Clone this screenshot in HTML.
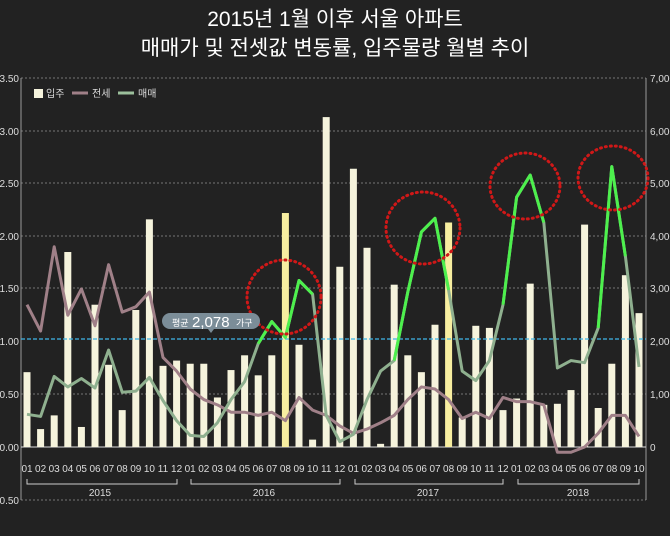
<!DOCTYPE html><html><head><meta charset="utf-8"><style>
body{margin:0;background:#222;width:670px;height:531px;overflow:hidden;font-family:"Liberation Sans","Noto Sans CJK KR",sans-serif}
svg text{font-family:"Liberation Sans","Noto Sans CJK KR",sans-serif}
</style></head><body>
<svg id="s" width="670" height="531" xmlns="http://www.w3.org/2000/svg">
<rect width="670" height="531" fill="#222"/>
<text x="335" y="26" fill="#fff" font-size="21" text-anchor="middle">2015년 1월 이후 서울 아파트</text>
<text x="335" y="55" fill="#fff" font-size="21" text-anchor="middle">매매가 및 전셋값 변동률, 입주물량 월별 추이</text>
<g stroke="#777" stroke-dasharray="2,2" stroke-width="1">
<line x1="21" x2="646" y1="78" y2="78"/><line x1="21" x2="646" y1="131" y2="131"/><line x1="21" x2="646" y1="183" y2="183"/><line x1="21" x2="646" y1="236" y2="236"/><line x1="21" x2="646" y1="288" y2="288"/><line x1="21" x2="646" y1="394" y2="394"/><line x1="21" x2="646" y1="500" y2="500"/>
</g>
<line x1="21" x2="21" y1="78" y2="500" stroke="#999"/>
<line x1="646" x2="646" y1="78" y2="500" stroke="#999"/>
<line x1="21" x2="646" y1="447" y2="447" stroke="#ddd"/>
<g fill="#ddd" font-size="10" text-anchor="end">
<text x="19" y="82">3.50</text><text x="19" y="135">3.00</text><text x="19" y="187">2.50</text><text x="19" y="240">2.00</text><text x="19" y="292">1.50</text><text x="19" y="345">1.00</text><text x="19" y="398">0.50</text><text x="19" y="451">0.00</text><text x="19" y="504">-0.50</text>
</g>
<g fill="#ddd" font-size="10" text-anchor="start">
<text x="650" y="82">7,000</text><text x="650" y="135">6,000</text><text x="650" y="187">5,000</text><text x="650" y="240">4,000</text><text x="650" y="292">3,000</text><text x="650" y="345">2,000</text><text x="650" y="398">1,000</text><text x="650" y="451">0</text>
</g>
<rect x="34" y="89" width="9" height="9" fill="#f5f3dc"/><text x="46" y="97" fill="#ddd" font-size="10">입주</text>
<line x1="72" x2="88" y1="93" y2="93" stroke="#a08088" stroke-width="3"/><text x="92" y="97" fill="#ddd" font-size="10">전세</text>
<line x1="118" x2="134" y1="93" y2="93" stroke="#9cc09c" stroke-width="3"/><text x="138" y="97" fill="#ddd" font-size="10">매매</text>
<g id="bars"></g>
<line x1="21" x2="646" y1="339" y2="339" stroke="#3fb6e8" stroke-dasharray="4,2" stroke-width="1.2"/>
<polyline id="jl" fill="none" stroke="#a08088" stroke-width="3" stroke-linejoin="round"/>
<polyline id="ml" fill="none" stroke="#8fb08f" stroke-width="3" stroke-linejoin="round"/>
<g id="hl"></g>
<g fill="none" stroke="#d01818" stroke-width="3" stroke-dasharray="1,4" stroke-linecap="round">
<ellipse cx="284" cy="297" rx="37" ry="37"/><ellipse cx="423" cy="228" rx="37" ry="36"/><ellipse cx="525" cy="186" rx="35" ry="33"/><ellipse cx="613" cy="178" rx="35" ry="32"/>
</g>
<rect x="162" y="313" width="98" height="16" rx="8" fill="#7b8d98"/>
<path d="M208 329 l3 4 l3 -4z" fill="#7b8d98"/>
<text x="172" y="326" fill="#fff" font-size="9">평균</text><text x="192" y="327" fill="#fff" font-size="15">2,078</text><text x="236" y="326" fill="#fff" font-size="9">가구</text>
<g fill="#ddd" font-size="10" text-anchor="middle" id="ml2">
<text x="27" y="472">01</text><text x="40.6" y="472">02</text><text x="54.2" y="472">03</text><text x="67.8" y="472">04</text><text x="81.4" y="472">05</text><text x="95" y="472">06</text><text x="108.6" y="472">07</text><text x="122.2" y="472">08</text><text x="135.8" y="472">09</text><text x="149.4" y="472">10</text><text x="163" y="472">11</text><text x="176.6" y="472">12</text>
<text x="190.2" y="472">01</text><text x="203.8" y="472">02</text><text x="217.4" y="472">03</text><text x="231" y="472">04</text><text x="244.6" y="472">05</text><text x="258.2" y="472">06</text><text x="271.8" y="472">07</text><text x="285.4" y="472">08</text><text x="299" y="472">09</text><text x="312.6" y="472">10</text><text x="326.2" y="472">11</text><text x="339.8" y="472">12</text>
<text x="353.4" y="472">01</text><text x="367" y="472">02</text><text x="380.6" y="472">03</text><text x="394.2" y="472">04</text><text x="407.8" y="472">05</text><text x="421.4" y="472">06</text><text x="435" y="472">07</text><text x="448.6" y="472">08</text><text x="462.2" y="472">09</text><text x="475.8" y="472">10</text><text x="489.4" y="472">11</text><text x="503" y="472">12</text>
<text x="516.6" y="472">01</text><text x="530.2" y="472">02</text><text x="543.8" y="472">03</text><text x="557.4" y="472">04</text><text x="571" y="472">05</text><text x="584.6" y="472">06</text><text x="598.2" y="472">07</text><text x="611.8" y="472">08</text><text x="625.4" y="472">09</text><text x="639" y="472">10</text>
<text x="100" y="496">2015</text><text x="264" y="496">2016</text><text x="428" y="496">2017</text><text x="578" y="496">2018</text>
</g>
<g stroke="#ccc" fill="none" stroke-width="1">
<path d="M27 479v5h150v-5"/><path d="M191 479v5h149v-5"/><path d="M355 479v5h148v-5"/><path d="M518 479v5h121v-5"/>
</g>
</svg>
<script>
var B=[0.71,0.17,0.30,1.85,0.19,1.35,0.78,0.35,1.30,2.16,0.77,0.82,0.79,0.79,0.47,0.73,0.87,0.68,0.87,2.22,0.97,0.07,3.13,1.71,2.64,1.89,0.03,1.54,0.87,0.71,1.16,2.13,0.28,1.15,1.13,0.35,0.46,1.55,0.40,0.41,0.54,2.11,0.37,0.79,1.63,1.27];
var M=[0.31,0.29,0.67,0.57,0.65,0.56,0.92,0.52,0.53,0.66,0.44,0.25,0.11,0.10,0.23,0.45,0.62,0.98,1.19,1.04,1.58,1.45,0.30,0.05,0.12,0.45,0.72,0.82,1.47,2.04,2.17,1.49,0.72,0.63,0.82,1.35,2.37,2.58,2.13,0.75,0.82,0.80,1.13,2.66,1.81,0.76];
var J=[1.35,1.10,1.90,1.25,1.50,1.15,1.73,1.28,1.33,1.47,0.85,0.72,0.55,0.45,0.40,0.33,0.33,0.30,0.33,0.25,0.47,0.35,0.30,0.20,0.13,0.17,0.23,0.30,0.45,0.57,0.55,0.45,0.27,0.33,0.27,0.47,0.43,0.43,0.40,-0.05,-0.05,0.00,0.13,0.30,0.30,0.10];
function X(i){return 27+i*13.6}function Y(v){return 447-v*105.4}
var h='';B.forEach(function(v,i){var c=(i==19||i==31)?'#f7eea0':'#f5f3dc';h+='<rect x="'+(X(i)-3.5)+'" y="'+Y(v)+'" width="7" height="'+(v*105.4)+'" fill="'+c+'"/>';});
document.getElementById('bars').innerHTML=h;
function pts(a,s,e){var r=[];for(var i=s;i<=e;i++)r.push(X(i)+','+Y(a[i]));return r.join(' ')}
document.getElementById('jl').setAttribute('points',pts(J,0,45));
document.getElementById('ml').setAttribute('points',pts(M,0,45));
var g='';[[17,21],[27,31],[35,38],[42,44]].forEach(function(r){g+='<polyline fill="none" stroke="#4df04d" stroke-width="3" stroke-linejoin="round" points="'+pts(M,r[0],r[1])+'"/>'});
document.getElementById('hl').innerHTML=g;
</script>
</body></html>
